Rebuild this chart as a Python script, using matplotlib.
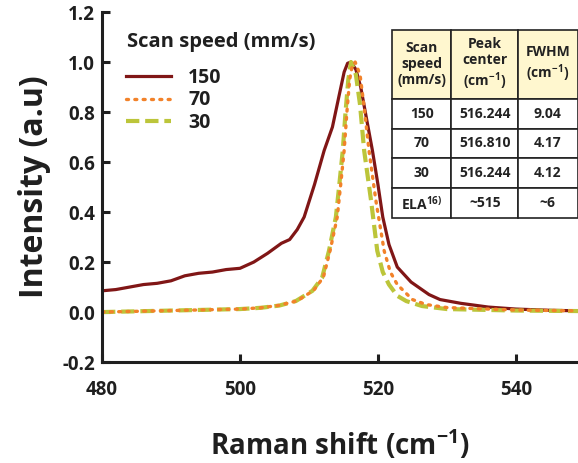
import numpy as np
import matplotlib
matplotlib.use("Agg")
import matplotlib.pyplot as plt


plt.rcParams["font.family"] = ["Open Sans", "DejaVu Sans"]
plt.rcParams["font.weight"] = "bold"
plt.rcParams["mathtext.fontset"] = "custom"
plt.rcParams["mathtext.rm"] = "Open Sans:bold"
plt.rcParams["mathtext.bf"] = "Open Sans:bold"
plt.rcParams["mathtext.default"] = "bf"

# scan speed 150 mm/s
x_150 = [480, 482, 484, 486, 488, 490, 492, 494, 496, 498, 500, 502, 504, 506,
         507.2, 508.3, 509.3, 510.8, 512.2, 513.4, 514.4, 515.1, 515.6, 516.1,
         516.8, 517.5, 518.3, 519.2, 520.0, 520.7, 521.6, 522.8, 524.8, 527.4,
         529, 532, 536, 540, 545, 549]
y_150 = [0.085, 0.09, 0.10, 0.11, 0.115, 0.125, 0.145, 0.155, 0.16, 0.17, 0.175,
         0.20, 0.235, 0.275, 0.29, 0.33, 0.38, 0.51, 0.646, 0.74, 0.87, 0.96,
         0.995, 1.0, 0.97, 0.90, 0.78, 0.646, 0.51, 0.38, 0.27, 0.18, 0.12,
         0.07, 0.05, 0.035, 0.02, 0.012, 0.007, 0.005]

# scan speed 70 mm/s
x_70 = [480, 485, 490, 495, 500, 503, 505.7, 508.3, 510.7, 512.1, 513.1, 514.1,
        514.6, 515.1, 515.5, 515.9, 516.3, 516.7, 517.4, 518.0, 518.7, 519.7,
        520.9, 521.8, 522.8, 525, 527, 530, 540, 549]
y_70 = [0.0, 0.003, 0.006, 0.009, 0.012, 0.017, 0.027, 0.045, 0.087, 0.14,
        0.25, 0.38, 0.51, 0.646, 0.80, 0.93, 0.99, 1.0, 0.95, 0.82, 0.646,
        0.446, 0.245, 0.16, 0.11, 0.05, 0.03, 0.018, 0.008, 0.005]

# scan speed 30 mm/s
x_30 = [480, 485, 490, 495, 500, 503, 505.7, 508.1, 510.5, 511.9, 512.9, 513.9,
        514.4, 514.9, 515.3, 515.7, 516.1, 516.8, 517.4, 518.0, 519.0, 519.9,
        520.7, 521.6, 522.8, 524.1, 526.4, 530, 540, 549]
y_30 = [0.0, 0.003, 0.006, 0.009, 0.012, 0.017, 0.026, 0.044, 0.085, 0.137,
        0.245, 0.38, 0.51, 0.646, 0.80, 0.93, 1.0, 0.95, 0.83, 0.646, 0.446,
        0.245, 0.16, 0.11, 0.065, 0.044, 0.024, 0.012, 0.006, 0.004]

table_header = ["Scan\nspeed\n(mm/s)", "Peak\ncenter\n(cm$^{-1}$)", "FWHM\n(cm$^{-1}$)"]
table_rows = [
    ["150", "516.244", "9.04"],
    ["70", "516.810", "4.17"],
    ["30", "516.244", "4.12"],
    ["ELA$^{16)}$", "~515", "~6"],
]

RED = "#801616"
ORANGE = "#F2822A"
GREEN = "#BCC53A"
INK = "#1f1f1f"

fig = plt.figure(figsize=(5.78, 4.63), dpi=100)
ax = fig.add_axes([0.1765, 0.218, 0.8235, 0.756])

ax.plot(x_150, y_150, color=RED, linewidth=2.3, label="150")
ax.plot(x_30, y_30, color=GREEN, linewidth=3.0, linestyle=(0, (3.2, 1.4)),
        label="30")
ax.plot(x_70, y_70, color=ORANGE, linewidth=2.4, linestyle=(0, (0.6, 1.9)),
        dash_capstyle="round", label="70")

ax.set_xlim(480, 549)
ax.set_ylim(-0.2, 1.2)
ax.set_xticks([480, 500, 520, 540])
yt = np.arange(-0.2, 1.21, 0.2)
ax.set_yticks(yt)
ax.set_yticklabels([f"{v:.1f}" for v in yt])

for side in ["top", "right"]:
    ax.spines[side].set_visible(False)
for side in ["left", "bottom"]:
    ax.spines[side].set_linewidth(2.2)
    ax.spines[side].set_color(INK)

ax.tick_params(direction="in", length=6, width=2.2, labelsize=13.5,
               colors=INK, pad=5)
ax.tick_params(axis="x", pad=13)
for lab in ax.get_xticklabels() + ax.get_yticklabels():
    lab.set_fontweight("bold")

ax.set_xlabel("Raman shift (cm$^{-1}$)", fontsize=20, labelpad=20,
              fontweight="bold", color=INK)
ax.set_ylabel("Intensity (a.u)", fontsize=23, labelpad=8,
              fontweight="bold", color=INK)

ax.text(0.052, 0.914, "Scan speed (mm/s)", transform=ax.transAxes,
        fontsize=14.5, fontweight="bold", color=INK, va="center", ha="left")

handles, labels = ax.get_legend_handles_labels()
order = [0, 2, 1]
leg = ax.legend([handles[i] for i in order], [labels[i] for i in order],
                loc="upper left", bbox_to_anchor=(0.05, 0.84), frameon=False,
                fontsize=14, handlelength=2.3, handletextpad=0.9,
                labelspacing=0.12, borderpad=0, borderaxespad=0)
for t in leg.get_texts():
    t.set_fontweight("bold")
    t.set_color(INK)

tbl = ax.table(cellText=[table_header] + table_rows, cellLoc="center",
               bbox=[0.609, 0.411, 0.39, 0.538])
tbl.auto_set_font_size(False)
for (r, c), cell in tbl.get_celld().items():
    cell.set_fontsize(10)
    cell.set_linewidth(1.2)
    cell.set_edgecolor("#222222")
    cell.get_text().set_fontweight("bold")
    cell.get_text().set_color("#222222")
    if r == 0:
        cell.set_height(69)
        cell.set_facecolor("#FFF7CF")
        cell.get_text().set_linespacing(1.2)
    else:
        cell.set_height(30)
    cell.set_width([59, 66, 59][c])
    cell.PAD = 0.02

fig.savefig("out.png", dpi=100)
